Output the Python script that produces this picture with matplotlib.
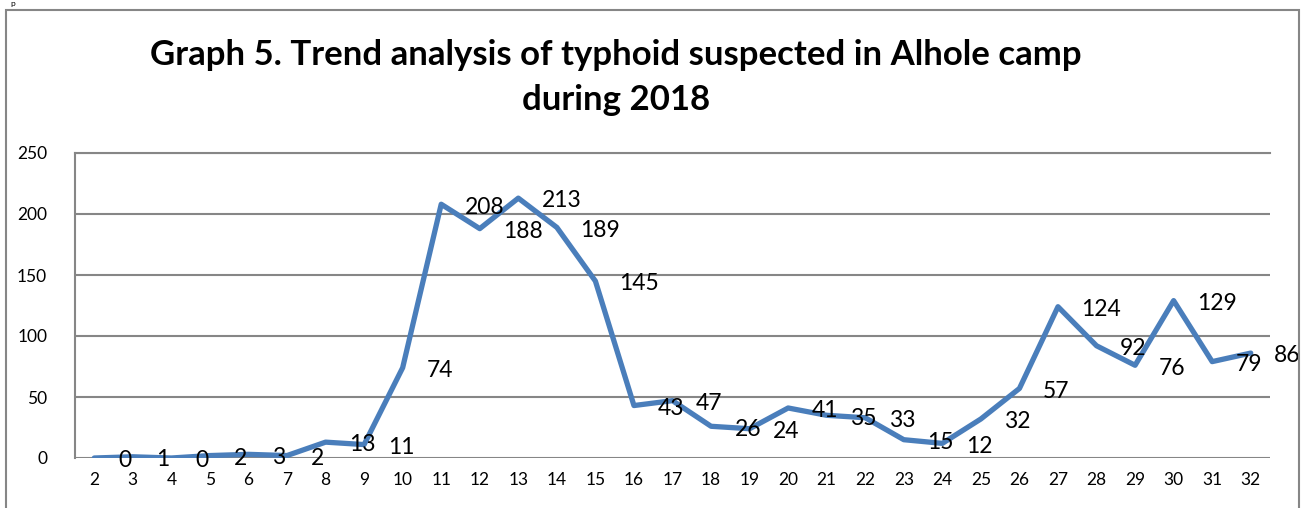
import matplotlib
matplotlib.use('Agg')
import matplotlib.pyplot as plt
from matplotlib.patches import Rectangle

# weeks of 2018 and suspected typhoid cases
weeks = list(range(2, 33))
cases = [0, 1, 0, 2, 3, 2, 13, 11, 74, 208, 188, 213, 189, 145, 43, 47,
         26, 24, 41, 35, 33, 15, 12, 32, 57, 124, 92, 76, 129, 79, 86]
title_lines = ["Graph 5. Trend analysis of typhoid suspected in Alhole camp",
               "during 2018"]
yticks = [0, 50, 100, 150, 200, 250]

plt.rcParams['font.family'] = ['Lato', 'DejaVu Sans']

fig = plt.figure(figsize=(13.06, 5.08), dpi=100)
# outer chart border
fig.patches.append(Rectangle((6 / 1306, -0.05), 1293 / 1306, (508 - 10) / 508 + 0.05,
                             transform=fig.transFigure, fill=False,
                             edgecolor='#868686', linewidth=1.5))
# bit of text above the chart
fig.text(10 / 1306, 1.0, "p", fontsize=6, va='top', ha='left')

ax = fig.add_axes([75 / 1306, 50 / 508, 1195 / 1306, 305 / 508])
x = list(range(len(weeks)))
ax.plot(x, cases, color='#4A7EBB', linewidth=3.8, solid_joinstyle='round',
        solid_capstyle='round', zorder=3)

for xi, v in zip(x, cases):
    ax.annotate(str(v), (xi, v), xytext=(17, -2), textcoords='offset points',
                ha='left', va='center', fontsize=16.5, zorder=4)

ax.set_xlim(-0.5, len(weeks) - 0.5)
ax.set_ylim(0, 250)
ax.set_xticks(x)
ax.set_xticklabels([str(w) for w in weeks])
ax.set_yticks(yticks)
ax.tick_params(length=0, labelsize=12.5, pad=10)
ax.tick_params(axis='y', pad=20)
ax.yaxis.grid(True, color='#868686', linewidth=1.5)
ax.set_axisbelow(True)
for s in ['right', 'bottom']:
    ax.spines[s].set_visible(False)
ax.spines['left'].set_color('#868686')
ax.spines['left'].set_linewidth(1.5)
ax.spines['top'].set_color('#868686')
ax.spines['top'].set_linewidth(1.5)

fig.text(616 / 1306, 1 - 55 / 508, title_lines[0], fontsize=25, fontweight='bold',
         ha='center', va='center')
fig.text(616 / 1306, 1 - 100 / 508, title_lines[1], fontsize=25, fontweight='bold',
         ha='center', va='center')

fig.savefig('out.png', dpi=100)
